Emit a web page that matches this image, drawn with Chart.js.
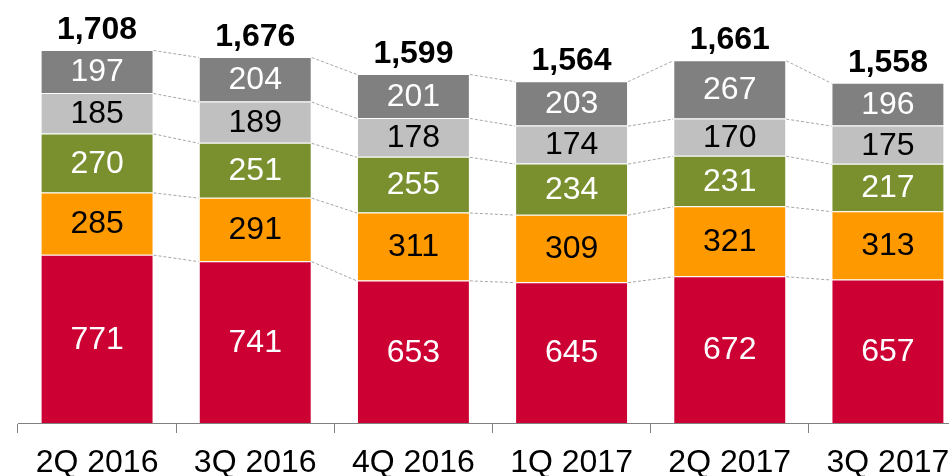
<!DOCTYPE html>
<html>
<head>
<meta charset="utf-8">
<script src="https://cdn.jsdelivr.net/npm/chart.js@4/dist/chart.umd.min.js"></script>
<style>
html,body{margin:0;padding:0;background:#fff;overflow:hidden;width:949px;height:476px;}
canvas{display:block;}
</style>
</head>
<body>
<canvas id="c" width="967" height="476" style="width:967px;height:476px;"></canvas>
<script>
const categories = ['2Q 2016','3Q 2016','4Q 2016','1Q 2017','2Q 2017','3Q 2017'];
const seriesRed = [771, 741, 653, 645, 672, 657];
const seriesOrange = [285, 291, 311, 309, 321, 313];
const seriesGreen = [270, 251, 255, 234, 231, 217];
const seriesLightGray = [185, 189, 178, 174, 170, 175];
const seriesDarkGray = [197, 204, 201, 203, 267, 196];
const totals = [1708, 1676, 1599, 1564, 1661, 1558];

const FONT = '"Liberation Sans", Arial, sans-serif';

const labelPlugin = {
  id: 'labels',
  afterDatasetsDraw(chart) {
    const ctx = chart.ctx;
    ctx.save();
    // connectors
    ctx.strokeStyle = '#a6a6a6';
    ctx.lineWidth = 1;
    ctx.setLineDash([3, 2]);
    chart.data.datasets.forEach((ds, i) => {
      const meta = chart.getDatasetMeta(i);
      for (let j = 0; j < meta.data.length - 1; j++) {
        const a = meta.data[j], b = meta.data[j + 1];
        ctx.beginPath();
        ctx.moveTo(a.x + a.width / 2, a.y + 0.5);
        ctx.lineTo(b.x - b.width / 2, b.y + 0.5);
        ctx.stroke();
      }
    });
    ctx.setLineDash([]);
    // segment values
    ctx.textAlign = 'center';
    ctx.textBaseline = 'middle';
    ctx.font = '32px ' + FONT;
    chart.data.datasets.forEach((ds, i) => {
      const meta = chart.getDatasetMeta(i);
      meta.data.forEach((el, j) => {
        ctx.fillStyle = ds.labelColor;
        const cy = (el.y + el.base) / 2 + 1;
        ctx.fillText(String(ds.data[j]), el.x, cy);
      });
    });
    // totals
    ctx.font = 'bold 32px ' + FONT;
    ctx.fillStyle = '#000';
    const topMeta = chart.getDatasetMeta(chart.data.datasets.length - 1);
    topMeta.data.forEach((el, j) => {
      ctx.fillText(totals[j].toLocaleString('en-US'), el.x, el.y - 20);
    });
    ctx.restore();
  }
};

const border = 'rgba(255,255,255,0.55)';
new Chart(document.getElementById('c'), {
  type: 'bar',
  data: {
    labels: categories,
    datasets: [
      { data: seriesRed, backgroundColor: '#CC0033', labelColor: '#fff' },
      { data: seriesOrange, backgroundColor: '#FF9900', labelColor: '#000' },
      { data: seriesGreen, backgroundColor: '#7A902F', labelColor: '#fff' },
      { data: seriesLightGray, backgroundColor: '#C0C0C0', labelColor: '#000' },
      { data: seriesDarkGray, backgroundColor: '#808080', labelColor: '#fff' }
    ].map(d => Object.assign(d, { borderColor: border, borderWidth: 1, categoryPercentage: 1, barPercentage: 0.714 }))
  },
  options: {
    responsive: false,
    animation: false,
    events: [],
    layout: { padding: { left: 18, right: 0, top: 0, bottom: 0 } },
    plugins: { legend: { display: false }, tooltip: { enabled: false } },
    scales: {
      x: {
        stacked: true,
        grid: { display: true, drawOnChartArea: false, offset: true, tickLength: 10, color: '#808080', lineWidth: 1 },
        border: { display: true, color: '#808080', width: 1 },
        ticks: { color: '#000', font: { family: FONT, size: 32 }, padding: 11, maxRotation: 0, autoSkip: false },
        afterFit(scale) { scale.height = 53; }
      },
      y: {
        stacked: true,
        display: false,
        min: 0,
        max: 1937
      }
    }
  },
  plugins: [labelPlugin]
});
</script>
</body>
</html>
